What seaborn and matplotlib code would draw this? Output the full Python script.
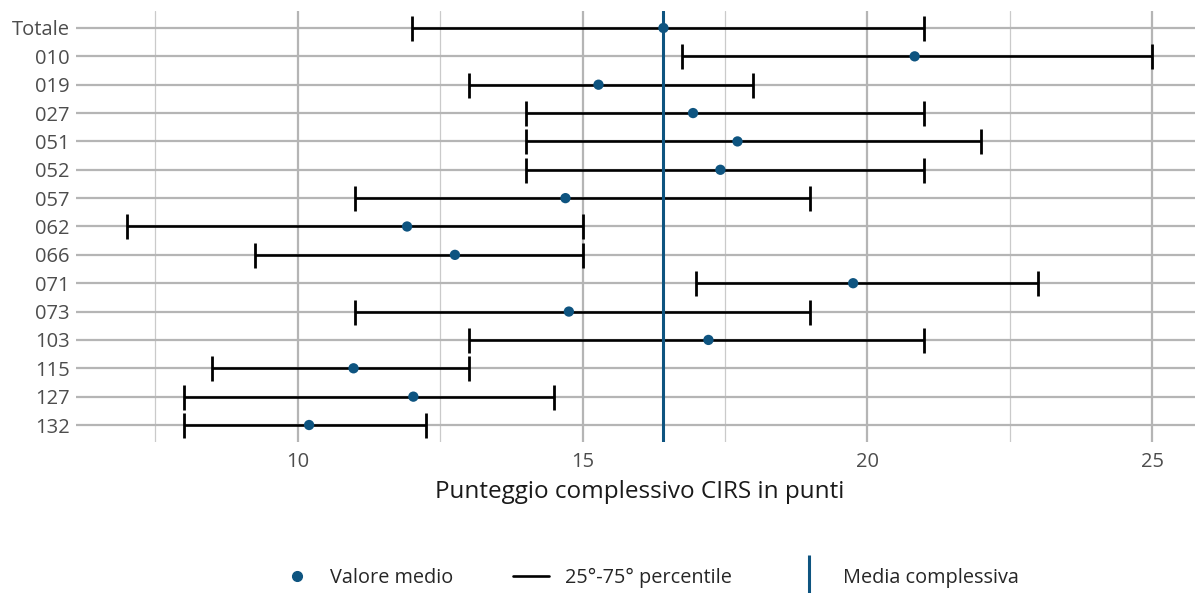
import matplotlib
matplotlib.use("Agg")
import matplotlib.pyplot as plt
from matplotlib.lines import Line2D
from matplotlib.ticker import MultipleLocator
import seaborn as sns
import pandas as pd
import numpy as np

# CIRS total score by centre: mean and 25th-75th percentile range
centri = ["Totale", "010", "019", "027", "051", "052", "057", "062",
          "066", "071", "073", "103", "115", "127", "132"]
media = [16.42, 20.83, 15.28, 16.94, 17.72, 17.42, 14.70, 11.92,
         12.76, 19.75, 14.76, 17.21, 10.98, 12.03, 10.20]
p25 = [12.0, 16.75, 13.0, 14.0, 14.0, 14.0, 11.0, 7.0,
       9.25, 17.0, 11.0, 13.0, 8.5, 8.0, 8.0]
p75 = [21.0, 25.0, 18.0, 21.0, 22.0, 21.0, 19.0, 15.0,
       15.0, 23.0, 19.0, 21.0, 13.0, 14.5, 12.25]
media_complessiva = 16.42

blu = "#0e5480"
grigio_testo = "#4d4d4d"

sns.set_theme(style="white")
plt.rcParams["font.family"] = ["Open Sans", "DejaVu Sans"]

df = pd.DataFrame({"centro": centri, "media": media, "p25": p25, "p75": p75})
df["pos"] = np.arange(len(df))

fig = plt.figure(figsize=(11.95, 5.93), dpi=100)
ax = fig.add_axes([0.0632, 0.2546, 0.9439, 0.7269])

# grid: major and minor vertical lines, horizontal line per centre
ax.set_xlim(6.1, 25.9)
ax.set_ylim(len(df) - 0.4, -0.6)
ax.xaxis.set_major_locator(MultipleLocator(5))
ax.xaxis.set_minor_locator(MultipleLocator(2.5))
ax.set_yticks(df["pos"])
ax.set_yticklabels(df["centro"])
ax.grid(which="major", axis="both", color="#b5b5b5", lw=1.6)
ax.grid(which="minor", axis="x", color="#cacaca", lw=0.9)
ax.set_axisbelow(True)
for s in ax.spines.values():
    s.set_visible(False)

# percentile ranges
ax.errorbar(x=(df["p25"] + df["p75"]) / 2, y=df["pos"],
            xerr=(df["p75"] - df["p25"]) / 2, fmt="none",
            ecolor="black", elinewidth=1.9, capsize=9, capthick=2, zorder=3)

# overall mean
ax.axvline(media_complessiva, color=blu, lw=2.2, zorder=4)

# centre means
sns.scatterplot(data=df, x="media", y="pos", color=blu, s=55,
                edgecolor="none", ax=ax, zorder=5, legend=False)

ax.set_ylabel("")
ax.set_xlabel("Punteggio complessivo CIRS in punti", fontsize=17.5,
              color="#1a1a1a", labelpad=6)
ax.tick_params(axis="both", length=0, labelsize=14.5, colors=grigio_testo, pad=4)
ax.tick_params(axis="x", pad=7)

handles = [
    Line2D([], [], marker="o", color=blu, lw=0, markersize=7),
    Line2D([], [], color="black", lw=1.9),
    Line2D([], [], marker="|", color=blu, lw=0, markersize=30, mew=2.2),
]
labels = ["Valore medio", "25°-75° percentile", "Media complessiva"]
fig.legend(handles, labels, loc="center", bbox_to_anchor=(0.543, 0.025),
           ncol=3, frameon=False, fontsize=14.3, handlelength=1.8,
           handletextpad=0.8, columnspacing=3.0)

fig.savefig("out.png", dpi=100)
